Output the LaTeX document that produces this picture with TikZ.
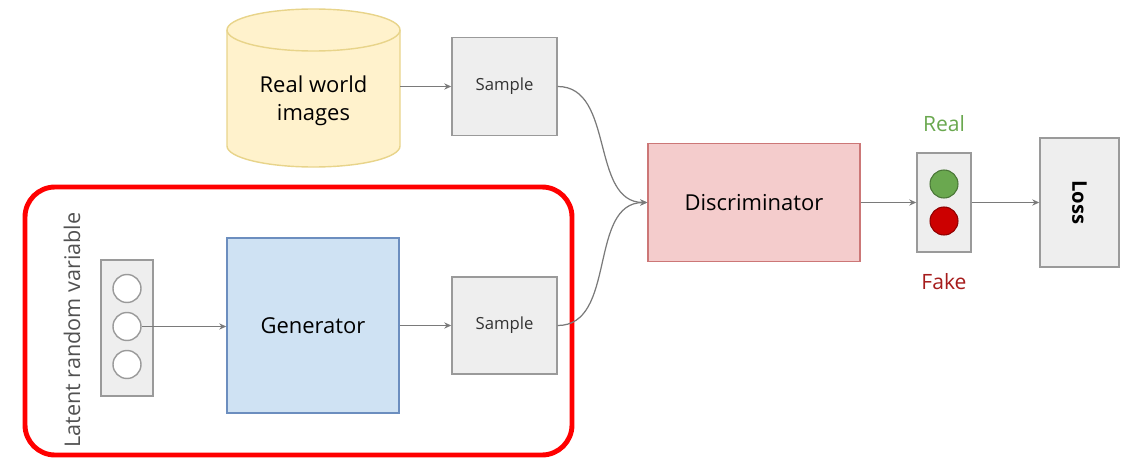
\documentclass[tikz,border=0pt]{standalone}
\usepackage{fontspec}
\setmainfont{Open Sans}
\usetikzlibrary{arrows.meta, positioning}
\definecolor{txtgray}{HTML}{333333}
\definecolor{linegray}{HTML}{7A7A7A}
\definecolor{boxfill}{HTML}{EEEEEE}
\definecolor{boxline}{HTML}{9A9A9A}
\definecolor{dbfill}{HTML}{FFF2CC}
\definecolor{dbline}{HTML}{E8D48A}
\definecolor{discfill}{HTML}{F4CCCC}
\definecolor{discline}{HTML}{CC7777}
\definecolor{genfill}{HTML}{CFE2F3}
\definecolor{genline}{HTML}{6C8EBF}
\definecolor{realgreen}{HTML}{6AA84F}
\definecolor{fakered}{HTML}{A61C1C}
\definecolor{frame}{HTML}{FF0000}
\def\px{0.02cm}
\tikzset{
  box/.style={draw=boxline, fill=boxfill, line width=0.8pt, inner sep=0pt, text=txtgray},
  flow/.style={draw=linegray, line width=0.7pt, -{Stealth[length=4pt, width=3.5pt]}},
  dot/.style={circle, draw=#1!70!black, fill=#1, line width=0.6pt, minimum size=28*\px, inner sep=0pt},
  hole/.style={circle, draw=boxline, fill=white, line width=0.8pt, minimum size=28*\px, inner sep=0pt}
}
\begin{document}
\begin{tikzpicture}[x=\px, y=-\px, font=\color{txtgray}]
\useasboundingbox (0,0) rectangle (1133,463);
% data source
\node[minimum width=173*\px, minimum height=158*\px, inner sep=0pt] (real) at (313.5,88) {};
\draw[draw=dbline, fill=dbfill, line width=0.8pt]
  (227,30) -- (227,146) arc[start angle=180, end angle=360, x radius=86.5, y radius=-21]
  -- (400,30) arc[start angle=0, end angle=-180, x radius=86.5, y radius=21] -- cycle;
\draw[draw=dbline, line width=0.8pt] (227,30) arc[start angle=180, end angle=360, x radius=86.5, y radius=-21];
\node[align=center, font=\fontsize{12.5}{16}\selectfont] (realtxt) at (313.5,101) {Real world\\images};
\node[box, minimum width=105*\px, minimum height=98*\px, font=\fontsize{9.5}{12}\selectfont] (samp1) at (504.5,86.5) {Sample};
% generator part
\draw[draw=frame, line width=2.8pt, rounded corners=30*\px] (25,187) rectangle (572,455);
\node[rotate=90, font=\fontsize{12.3}{14}\selectfont, text=txtgray!85] (latxt) at (72,330) {Latent random variable};
\node[box, minimum width=52*\px, minimum height=136*\px] (latent) at (127,328) {};
\node[hole] (c1) at (127,288.5) {};
\node[hole] (c2) at (127,326.5) {};
\node[hole] (c3) at (127,364.5) {};
\node[draw=genline, fill=genfill, line width=0.8pt, minimum width=172*\px, minimum height=175*\px, font=\fontsize{12.5}{15}\selectfont] (gen) at (313,325.5) {Generator};
\node[box, minimum width=105*\px, minimum height=97*\px, font=\fontsize{9.5}{12}\selectfont] (samp2) at (504.5,325.5) {Sample};
% discriminator part
\node[draw=discline, fill=discfill, line width=0.8pt, minimum width=212*\px, minimum height=118*\px, font=\fontsize{12.5}{15}\selectfont] (disc) at (754,202.5) {Discriminator};
\node[box, minimum width=54*\px, minimum height=99*\px] (light) at (944,202.5) {};
\node[dot=realgreen] (green) at (944,184) {};
\node[dot=red!80!black] (redd) at (944,221) {};
\node[text=realgreen, font=\fontsize{12}{14}\selectfont] (lreal) at (944,124) {Real};
\node[text=fakered, font=\fontsize{12}{14}\selectfont] (lfake) at (944,282) {Fake};
\node[box, minimum width=79*\px, minimum height=129*\px] (loss) at (1079.5,202.5) {};
\node[rotate=-90, font=\bfseries\fontsize{11.5}{14}\selectfont, text=black] (losstxt) at (loss.center) {Loss};
% connectors
\draw[flow] (real.east |- samp1.west) -- (samp1.west);
\draw[flow] (c2.east) -- (c2 -| gen.west);
\draw[flow] (gen.east |- samp2.west) -- (samp2.west);
\draw[flow] (samp1.east) to[out=0, in=180] (disc.west);
\draw[flow] (samp2.east) to[out=0, in=180] (disc.west);
\draw[flow] (disc.east |- light.west) -- (light.west);
\draw[flow] (light.east) -- (loss.west);
\end{tikzpicture}
\end{document}
